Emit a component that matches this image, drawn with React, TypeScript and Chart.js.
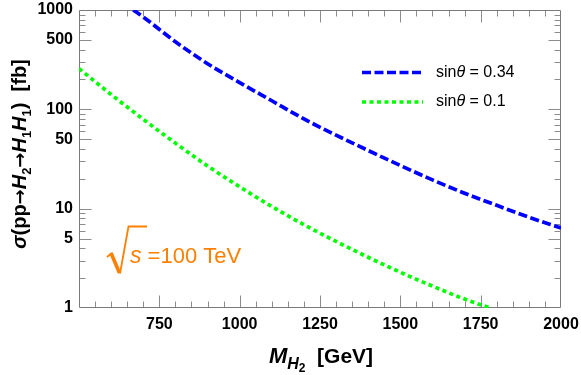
import React, { useEffect, useRef } from "react";
import { Chart, registerables } from "chart.js";

Chart.register(...registerables);

// ---- data ----
const massBlue = [669, 700, 800, 900, 1000, 1100, 1200, 1300, 1400, 1500, 1600, 1700, 1800, 1900, 2000];
const sigmaBlue = [1000, 851, 479, 288, 186, 122, 80, 55, 38.5, 27.2, 19.5, 14.3, 10.8, 8.2, 6.4];

const massGreen = [500, 600, 700, 800, 900, 1000, 1100, 1200, 1300, 1400, 1500, 1600, 1700, 1780];
const sigmaGreen = [257, 141, 79.4, 45.7, 26.9, 16.6, 10.5, 6.9, 4.68, 3.24, 2.29, 1.66, 1.23, 1.0];

const seriesLabels = ["0.34", "0.1"];

const xTickLabels = [750, 1000, 1250, 1500, 1750, 2000];
const xMinorStep = 50;
const yTickLabels = [1, 5, 10, 50, 100, 500, 1000];
const yMinorMultipliers = [2, 3, 4, 6, 7, 8, 9];

const X_MIN = 500;
const X_MAX = 2000;
const Y_MIN = 1;
const Y_MAX = 1000;

const FONT = "'Liberation Sans', Arial, Helvetica, sans-serif";
const ARROW_FONT = "'DejaVu Sans', 'Liberation Sans', sans-serif";
const ORANGE = "#ff8000";
const BLUE = "#0000ff";
const GREEN = "#00ff00";

type Run = { t: string; font: string; dy?: number };

function runsWidth(ctx: CanvasRenderingContext2D, runs: Run[]) {
  let w = 0;
  for (const r of runs) {
    ctx.font = r.font;
    w += ctx.measureText(r.t).width;
  }
  return w;
}

function drawRuns(ctx: CanvasRenderingContext2D, runs: Run[], x: number, y: number) {
  let cx = x;
  for (const r of runs) {
    ctx.font = r.font;
    ctx.fillText(r.t, cx, y + (r.dy || 0));
    cx += ctx.measureText(r.t).width;
  }
  return cx;
}

const decorPlugin = {
  id: "decor",
  beforeDatasetsDraw(chart: any) {
    const { ctx, chartArea: a, scales } = chart;
    const xs = scales.x;
    const ys = scales.y;
    ctx.save();
    ctx.strokeStyle = "#8c8c8c";
    ctx.lineWidth = 1;
    const L = Math.round(a.left) + 0.5;
    const R = Math.round(a.right) - 0.5;
    const T = Math.round(a.top) + 0.5;
    const B = Math.round(a.bottom) - 0.5;
    const vTick = (v: number, len: number) => {
      const px = Math.round(xs.getPixelForValue(v)) + 0.5;
      ctx.beginPath();
      ctx.moveTo(px, B);
      ctx.lineTo(px, B - len);
      ctx.moveTo(px, T);
      ctx.lineTo(px, T + len);
      ctx.stroke();
    };
    const hTick = (v: number, len: number) => {
      const py = Math.round(ys.getPixelForValue(v)) + 0.5;
      ctx.beginPath();
      ctx.moveTo(L, py);
      ctx.lineTo(L + len, py);
      ctx.moveTo(R, py);
      ctx.lineTo(R - len, py);
      ctx.stroke();
    };
    for (let v = X_MIN + xMinorStep; v < X_MAX; v += xMinorStep) {
      vTick(v, xTickLabels.includes(v) ? 12 : 6);
    }
    for (let d = 1; d < Y_MAX; d *= 10) {
      for (const m of yMinorMultipliers) hTick(d * m, 6);
    }
    for (const v of yTickLabels) {
      if (v > Y_MIN && v < Y_MAX) hTick(v, 12);
    }
    ctx.strokeStyle = "#7a7a7a";
    ctx.beginPath();
    ctx.moveTo(L, T);
    ctx.lineTo(R, T);
    ctx.lineTo(R, B);
    ctx.lineTo(L, B);
    ctx.closePath();
    ctx.stroke();
    ctx.restore();
  },
  afterDraw(chart: any) {
    const { ctx, chartArea: a } = chart;
    ctx.save();
    ctx.fillStyle = "#000";
    ctx.textBaseline = "alphabetic";

    // x-axis title: M_{H_2} [GeV]
    const xRuns: Run[] = [
      { t: "M", font: `italic bold 22px ${FONT}` },
      { t: "H", font: `italic bold 16px ${FONT}`, dy: 6 },
      { t: "2", font: `bold 12px ${FONT}`, dy: 9 },
      { t: "  [GeV]", font: `bold 21px ${FONT}` },
    ];
    const xw = runsWidth(ctx, xRuns);
    const xc = (a.left + a.right) / 2 + 1;
    drawRuns(ctx, xRuns, xc - xw / 2, 363);

    // y-axis title
    const yRuns: Run[] = [
      { t: "σ", font: `italic bold 20px ${FONT}` },
      { t: "(pp", font: `bold 20px ${FONT}` },
      { t: "→", font: `bold 18px ${ARROW_FONT}` },
      { t: "H", font: `italic bold 20px ${FONT}` },
      { t: "2", font: `bold 13px ${FONT}`, dy: 5 },
      { t: "→", font: `bold 18px ${ARROW_FONT}` },
      { t: "H", font: `italic bold 20px ${FONT}` },
      { t: "1", font: `bold 13px ${FONT}`, dy: 5 },
      { t: "H", font: `italic bold 20px ${FONT}` },
      { t: "1", font: `bold 13px ${FONT}`, dy: 5 },
      { t: ")  [fb]", font: `bold 20px ${FONT}` },
    ];
    const yw = runsWidth(ctx, yRuns);
    ctx.save();
    ctx.translate(26, 154);
    ctx.rotate(-Math.PI / 2);
    drawRuns(ctx, yRuns, -yw / 2, 0);
    ctx.restore();

    // legend
    chart.data.datasets.forEach((ds: any, i: number) => {
      const ly = 72.5 + i * 29.5;
      ctx.save();
      ctx.strokeStyle = ds.borderColor;
      ctx.lineWidth = ds.borderWidth;
      ctx.setLineDash(ds.borderDash || []);
      ctx.lineCap = "butt";
      ctx.beginPath();
      ctx.moveTo(362, ly);
      ctx.lineTo(423, ly);
      ctx.stroke();
      ctx.restore();
      ctx.fillStyle = "#000";
      ctx.textBaseline = "middle";
      drawRuns(
        ctx,
        [
          { t: "sin", font: `16px ${FONT}` },
          { t: "θ", font: `italic 16px ${FONT}` },
          { t: " = " + seriesLabels[i], font: `16px ${FONT}` },
        ],
        436,
        ly
      );
    });

    // annotation: sqrt(s) = 100 TeV
    ctx.strokeStyle = ORANGE;
    ctx.fillStyle = ORANGE;
    ctx.lineJoin = "miter";
    ctx.lineWidth = 1.8;
    ctx.beginPath();
    ctx.moveTo(107, 257);
    ctx.lineTo(112, 253);
    ctx.stroke();
    ctx.lineWidth = 3.6;
    ctx.beginPath();
    ctx.moveTo(111, 253);
    ctx.lineTo(119.5, 273);
    ctx.stroke();
    ctx.lineWidth = 1.8;
    ctx.beginPath();
    ctx.moveTo(120, 273.5);
    ctx.lineTo(128.5, 226.5);
    ctx.lineTo(147, 226.5);
    ctx.stroke();
    ctx.textBaseline = "alphabetic";
    drawRuns(
      ctx,
      [
        { t: "s", font: `italic 23px ${FONT}` },
        { t: " =100 TeV", font: `22px ${FONT}` },
      ],
      130,
      263
    );
    ctx.restore();
  },
};

export default function App() {
  const ref = useRef<HTMLCanvasElement | null>(null);

  useEffect(() => {
    if (!ref.current) return;
    const chart = new Chart(ref.current, {
      type: "line",
      data: {
        datasets: [
          {
            label: "sinθ = 0.34",
            data: massBlue.map((m, i) => ({ x: m, y: sigmaBlue[i] })),
            borderColor: BLUE,
            borderWidth: 3.7,
            borderDash: [9, 3.5],
            borderCapStyle: "butt",
            pointRadius: 0,
            cubicInterpolationMode: "monotone",
            fill: false,
          },
          {
            label: "sinθ = 0.1",
            data: massGreen.map((m, i) => ({ x: m, y: sigmaGreen[i] })),
            borderColor: GREEN,
            borderWidth: 3.7,
            borderDash: [4, 3.5],
            borderCapStyle: "butt",
            pointRadius: 0,
            cubicInterpolationMode: "monotone",
            fill: false,
          },
        ],
      },
      options: {
        animation: false,
        responsive: false,
        events: [],
        layout: { padding: { left: 0, top: 10, right: 20, bottom: 0 } },
        plugins: {
          legend: { display: false },
          tooltip: { enabled: false },
          title: { display: false },
        },
        scales: {
          x: {
            type: "linear",
            min: X_MIN,
            max: X_MAX,
            grid: { display: false, drawTicks: false },
            border: { display: false },
            afterBuildTicks: (s: any) => {
              s.ticks = xTickLabels.map((v) => ({ value: v }));
            },
            afterFit: (s: any) => {
              s.height = 67;
              s.paddingLeft = 0;
              s.paddingRight = 0;
            },
            ticks: {
              autoSkip: false,
              maxRotation: 0,
              padding: 7,
              color: "#000",
              font: { family: FONT, size: 16, weight: "bold" },
              callback: (v: any) => String(v),
            },
          },
          y: {
            type: "logarithmic",
            min: Y_MIN,
            max: Y_MAX,
            grid: { display: false, drawTicks: false },
            border: { display: false },
            afterBuildTicks: (s: any) => {
              s.ticks = yTickLabels.map((v) => ({ value: v }));
            },
            afterFit: (s: any) => {
              s.width = 79;
              s.paddingTop = 0;
              s.paddingBottom = 0;
            },
            ticks: {
              autoSkip: false,
              padding: 6,
              color: "#000",
              font: { family: FONT, size: 16, weight: "bold" },
              callback: (v: any) => String(v),
            },
          },
        },
      } as any,
      plugins: [decorPlugin],
    });
    return () => chart.destroy();
  }, []);

  return (
    <div style={{ position: "fixed", left: 0, top: 0, width: 581, height: 375, background: "#fff" }}>
      <canvas ref={ref} width={581} height={375} style={{ display: "block" }} />
    </div>
  );
}
